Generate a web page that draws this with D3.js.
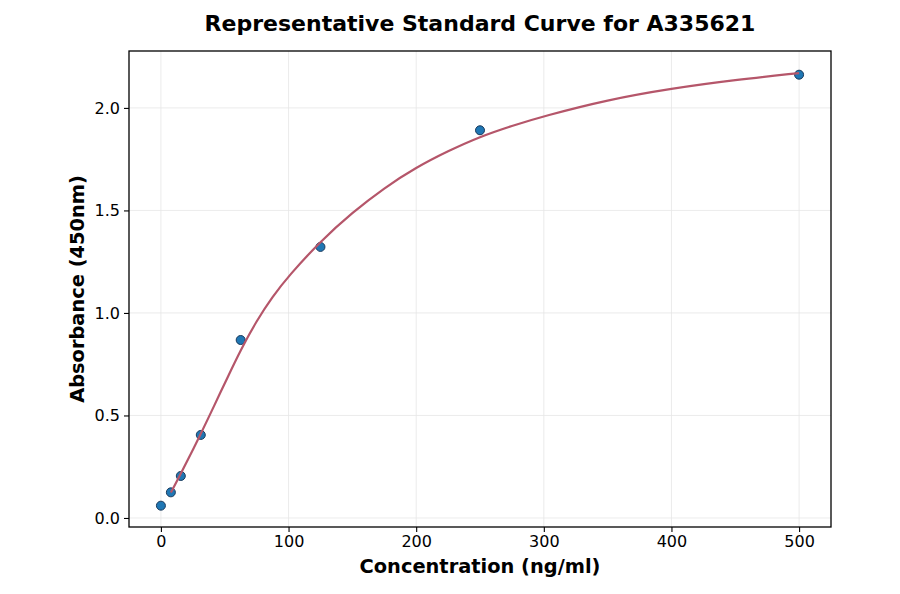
<!DOCTYPE html>
<html>
<head>
<meta charset="utf-8">
<script src="https://cdn.jsdelivr.net/npm/d3@7"></script>
<style>
  body { margin: 0; background: #fff; }
  text { font-family: "DejaVu Sans", sans-serif; }
</style>
</head>
<body>
<svg width="900" height="594"></svg>
<script>
  // standards (measured points)
  const concentrations = [0, 7.8, 15.6, 31.25, 62.5, 125, 250, 500];
  const absorbances = [0.06, 0.125, 0.205, 0.405, 0.868, 1.322, 1.891, 2.162];

  // fitted curve
  const curveX = [7.8, 15.6, 31.25, 41.7, 52, 62.5, 75, 87.5, 100, 125, 150, 175, 200, 225, 250, 275, 300, 350, 400, 450, 500];
  const curveY = [0.124, 0.215, 0.41, 0.547, 0.683, 0.82, 0.962, 1.08, 1.18, 1.35, 1.49, 1.61, 1.71, 1.79, 1.86, 1.913, 1.96, 2.04, 2.095, 2.137, 2.17];

  const xTicks = [0, 100, 200, 300, 400, 500];
  const yTicks = [0.0, 0.5, 1.0, 1.5, 2.0];

  const svg = d3.select("svg");
  const margin = { left: 129, right: 69, top: 51, bottom: 67 };
  const width = +svg.attr("width");
  const height = +svg.attr("height");
  const plotW = width - margin.left - margin.right;
  const plotH = height - margin.top - margin.bottom;

  const x = d3.scaleLinear().domain([-25, 525]).range([0, plotW]);
  const y = d3.scaleLinear().domain([-0.0440, 2.2776]).range([plotH, 0]);

  const g = svg.append("g").attr("transform", `translate(${margin.left},${margin.top})`);

  // grid
  g.append("g")
    .selectAll("line")
    .data(xTicks)
    .join("line")
    .attr("x1", d => x(d)).attr("x2", d => x(d))
    .attr("y1", 0).attr("y2", plotH)
    .attr("stroke", "#e6e6e6").attr("stroke-width", 0.8);
  g.append("g")
    .selectAll("line")
    .data(yTicks)
    .join("line")
    .attr("x1", 0).attr("x2", plotW)
    .attr("y1", d => y(d)).attr("y2", d => y(d))
    .attr("stroke", "#e6e6e6").attr("stroke-width", 0.8);

  // axes
  const xAxis = g.append("g")
    .attr("transform", `translate(0,${plotH})`)
    .call(d3.axisBottom(x).tickValues(xTicks).tickFormat(d3.format("d")).tickSize(5).tickPadding(4));
  const yAxis = g.append("g")
    .call(d3.axisLeft(y).tickValues(yTicks).tickFormat(d3.format(".1f")).tickSize(5).tickPadding(4));
  [xAxis, yAxis].forEach(a => {
    a.select(".domain").remove();
    a.selectAll("line").attr("stroke", "#000").attr("stroke-width", 1.1);
    a.selectAll("text").attr("font-size", 16).attr("fill", "#000")
      .style("font-family", "'DejaVu Sans', sans-serif");
  });

  // frame
  g.append("rect")
    .attr("width", plotW).attr("height", plotH)
    .attr("fill", "none").attr("stroke", "#000").attr("stroke-width", 1.3);

  // points
  g.append("g")
    .selectAll("circle")
    .data(concentrations)
    .join("circle")
    .attr("cx", d => x(d))
    .attr("cy", (d, i) => y(absorbances[i]))
    .attr("r", 4.5)
    .attr("fill", "#1f77b4")
    .attr("stroke", "#1a3a5c")
    .attr("stroke-width", 1);

  // curve
  const line = d3.line()
    .x(d => x(d[0]))
    .y(d => y(d[1]))
    .curve(d3.curveBasis);
  g.append("path")
    .attr("d", line(d3.zip(curveX, curveY)))
    .attr("fill", "none")
    .attr("stroke", "#b5566a")
    .attr("stroke-width", 2.2);

  // labels
  svg.append("text")
    .attr("x", margin.left + plotW / 2).attr("y", 31)
    .attr("text-anchor", "middle")
    .attr("font-size", 22).attr("font-weight", "bold")
    .text("Representative Standard Curve for A335621");
  svg.append("text")
    .attr("x", margin.left + plotW / 2).attr("y", 573)
    .attr("text-anchor", "middle")
    .attr("font-size", 19.4).attr("font-weight", "bold")
    .text("Concentration (ng/ml)");
  svg.append("text")
    .attr("transform", `translate(84,${margin.top + plotH / 2}) rotate(-90)`)
    .attr("text-anchor", "middle")
    .attr("font-size", 19.4).attr("font-weight", "bold")
    .text("Absorbance (450nm)");
</script>
</body>
</html>
